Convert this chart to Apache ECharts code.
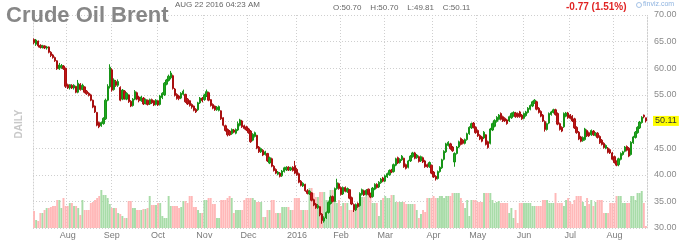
<!DOCTYPE html>
<html><head><meta charset="utf-8">
<script src="https://cdn.jsdelivr.net/npm/echarts/dist/echarts.min.js"></script>
<style>html,body{margin:0;padding:0;background:#fff}#c{width:688px;height:241px}</style>
</head><body><div id="c"></div>
<script>
// ---- data ----
const startDate = '2015-07-10';
const endDate = '2016-08-22';
const monthNames = ['2016','Feb','Mar','Apr','May','Jun','Jul','Aug','Sep','Oct','Nov','Dec'];
const priceTicks = [30, 35, 40, 45, 50, 55, 60, 65, 70];
// [open, close, low, high]
const ohlc = [
[65.4,64.8,64.5,65.6],[64.5,65.3,64.2,65.5],[65.1,64.2,63.9,65.2],[64.3,63.9,63.7,64.5],[63.9,64.2,63.7,64.4],[64.2,63.8,63.6,64.3],[63.8,64.0,63.5,64.2],[64.0,63.0,62.8,64.1],
[63.0,62.4,62.1,63.2],[62.5,62.0,61.8,62.7],[62.0,61.4,61.2,62.2],[61.4,59.9,59.7,61.5],[59.9,60.6,59.7,61.0],[60.1,60.5,59.9,60.8],[60.4,59.9,59.7,60.6],[60.0,56.6,56.3,60.1],
[56.9,56.3,56.1,57.1],[56.3,56.9,56.0,57.0],[56.8,56.3,56.1,57.0],[56.3,56.8,56.0,57.0],[56.6,55.5,55.3,56.7],[55.5,57.2,55.3,57.8],[57.0,56.0,55.8,57.2],[56.0,56.8,55.9,57.1],
[56.5,55.5,55.3,56.6],[55.7,55.2,55.0,55.9],[55.3,54.9,54.7,55.5],[55.0,54.0,53.8,55.2],[54.0,52.7,52.5,54.1],[52.9,51.8,51.6,53.0],[51.7,49.3,49.1,51.8],[49.8,49.0,48.75,50.0],
[49.2,49.8,49.0,50.0],[49.6,50.6,49.4,50.8],[50.5,54.0,50.3,54.3],[54.0,56.6,53.8,57.0],[56.5,60.2,56.2,60.75],[59.7,55.9,55.6,60.0],[56.0,57.8,55.8,58.1],[57.5,56.8,56.5,57.8],
[56.8,57.5,56.5,57.9],[56.4,54.0,53.8,56.6],[54.2,55.9,54.0,56.1],[55.7,54.3,54.1,55.9],[54.2,55.3,54.0,55.5],[55.0,53.7,53.5,55.1],[53.8,52.9,52.7,54.0],[53.0,54.2,52.8,54.4],
[54.2,55.6,54.0,55.9],[55.4,54.2,54.0,55.6],[54.6,53.9,53.6,54.8],[53.9,54.6,53.7,54.8],[54.4,53.3,53.1,54.6],[53.4,54.1,53.2,54.3],[54.0,53.2,53.0,54.1],[53.3,54.1,53.1,54.3],
[54.1,53.5,53.3,54.3],[53.9,53.1,52.9,54.0],[53.2,54.0,53.0,54.2],[53.9,53.1,52.9,54.0],[53.2,54.8,53.0,55.0],[54.5,55.3,54.2,55.5],[55.0,57.2,54.8,57.4],[57.0,57.8,56.8,58.0],
[57.7,58.5,57.5,58.8],[58.2,59.1,57.9,59.5],[58.6,56.2,56.0,58.8],[56.1,54.9,54.7,56.3],[55.1,54.3,54.1,55.3],[54.8,54.3,54.0,55.0],[54.4,55.3,54.2,55.5],[55.1,55.7,54.9,56.0],
[55.1,53.7,53.5,55.2],[54.2,53.3,53.1,54.4],[53.9,53.0,52.8,54.0],[53.2,52.7,52.4,53.4],[52.9,52.1,51.9,53.0],[52.3,51.8,51.6,52.5],[52.2,53.5,52.0,53.7],[53.5,54.4,53.3,54.6],
[54.4,53.9,53.6,54.6],[54.1,55.0,53.9,55.2],[54.9,55.6,54.6,56.0],[55.4,54.0,53.8,55.6],[54.1,53.0,52.8,54.2],[53.2,52.5,52.3,53.4],[52.9,52.2,52.0,53.0],[52.2,52.7,52.0,52.9],
[52.1,52.8,51.9,53.0],[52.0,50.5,50.3,52.1],[50.7,49.3,49.1,50.8],[49.2,48.3,48.1,49.4],[48.5,47.5,47.2,48.7],[48.2,47.5,47.3,48.4],[47.7,48.5,47.5,48.7],[48.4,48.0,47.8,48.6],
[47.8,48.5,47.6,48.7],[48.4,49.6,48.2,50.0],[49.3,50.3,49.1,50.5],[50.1,49.0,48.8,50.3],[49.2,48.7,48.5,49.4],[49.0,48.4,48.2,49.2],[48.6,47.9,47.7,48.8],[48.2,46.2,46.0,48.4],
[46.5,47.6,46.3,47.8],[47.2,47.9,47.0,48.1],[47.4,45.0,44.8,47.5],[45.2,44.3,44.1,45.4],[44.3,44.9,44.1,45.1],[44.6,43.7,43.5,44.8],[43.8,44.3,43.6,44.5],[44.0,42.6,42.4,44.1],
[42.2,43.2,42.0,43.4],[43.0,41.6,41.4,43.2],[41.6,40.8,40.6,41.8],[41.0,40.3,40.1,41.2],[40.1,40.5,39.9,40.7],[40.3,39.7,39.5,40.5],[39.8,40.7,39.6,40.9],[40.6,41.3,40.4,41.5],
[40.9,41.4,40.7,41.6],[41.4,40.9,40.7,41.6],[40.9,41.3,40.7,41.5],[41.4,40.8,40.6,41.6],[41.7,40.3,40.1,42.6],[41.0,40.0,39.8,41.3],[40.2,38.6,38.4,40.4],[38.8,38.0,37.8,39.0],
[37.9,38.4,37.7,38.6],[38.2,37.0,36.8,38.3],[37.0,36.5,36.3,37.3],[36.4,36.9,36.2,37.1],[36.6,35.2,35.0,36.7],[35.3,34.3,34.1,35.5],[34.5,33.8,33.6,34.7],[33.8,34.2,33.6,34.5],
[34.0,32.5,32.2,34.1],[32.6,31.4,30.8,32.8],[31.3,31.9,31.0,32.2],[31.9,32.9,31.7,33.1],[32.9,34.8,32.7,35.0],[34.6,35.8,34.4,36.1],[35.9,35.0,34.8,36.1],[35.0,37.4,34.9,37.6],
[37.4,38.5,37.2,39.25],[38.3,37.4,37.2,38.5],[37.6,36.3,36.1,37.8],[36.4,37.6,36.2,37.8],[37.6,36.9,36.7,37.8],[36.8,37.4,36.6,37.6],[37.2,35.6,35.4,37.3],[35.7,34.5,34.3,35.9],
[34.4,33.4,33.0,34.6],[33.4,34.4,33.2,34.6],[34.6,34.0,33.8,34.8],[34.2,36.5,34.0,36.7],[36.3,37.2,36.1,37.4],[37.0,36.2,36.0,37.2],[36.3,37.1,36.1,37.3],[37.3,36.3,36.1,37.4],
[36.4,35.8,35.6,36.6],[35.9,37.5,35.7,37.7],[37.3,38.2,37.1,38.4],[38.2,37.6,37.4,38.4],[37.7,38.6,37.5,38.8],[38.5,39.2,38.3,39.4],[39.4,38.8,38.6,39.6],[38.8,39.8,38.6,40.0],
[39.6,40.2,39.4,40.4],[40.0,40.8,39.8,41.0],[40.9,40.5,40.3,41.1],[40.6,41.9,40.4,42.1],[41.8,43.0,41.6,43.2],[43.2,42.2,42.0,43.4],[42.3,42.9,42.1,43.1],[42.8,43.5,42.6,43.7],
[43.1,41.5,41.3,43.2],[41.9,41.2,41.0,42.1],[41.4,42.6,41.2,42.8],[42.6,43.5,42.4,43.7],[43.4,44.1,43.2,44.3],[44.1,43.1,42.9,44.3],[43.2,43.7,43.0,43.9],[43.4,42.5,42.3,43.6],
[42.6,43.4,42.4,43.6],[43.2,42.4,42.2,43.4],[42.6,41.5,41.3,42.8],[41.9,41.5,41.3,42.1],[41.5,42.3,41.3,42.5],[41.8,40.3,40.1,41.9],[40.5,39.6,39.4,40.7],[39.7,39.2,38.9,39.9],
[39.3,40.6,39.1,40.8],[40.6,41.4,40.4,41.6],[41.3,42.8,41.1,43.0],[42.9,44.4,42.7,44.6],[44.3,45.8,44.1,46.0],[45.5,46.1,45.3,46.3],[45.8,44.9,44.7,46.0],[45.2,44.5,44.3,45.4],
[42.4,44.0,41.5,44.2],[44.0,45.2,43.8,45.4],[45.2,46.2,45.0,46.4],[46.8,45.7,45.5,47.0],[46.5,45.9,45.7,46.7],[45.9,46.6,45.7,46.8],[46.6,47.7,46.4,47.9],[47.7,48.9,47.5,49.1],
[48.8,49.6,48.6,49.8],[49.7,48.9,48.7,49.9],[48.9,47.9,47.7,49.1],[48.3,47.3,47.1,48.5],[47.4,46.7,46.5,47.6],[47.1,46.3,46.1,47.3],[46.9,48.0,46.7,48.2],[47.5,45.7,45.5,47.6],
[46.2,45.1,44.9,46.4],[45.9,48.6,45.7,48.8],[48.4,49.6,48.2,49.8],[49.1,50.2,48.9,50.4],[50.0,50.8,49.8,51.0],[50.4,51.2,50.2,51.4],[51.5,50.4,50.2,51.7],[50.9,50.1,49.9,51.1],
[50.6,50.1,49.9,50.8],[50.3,49.6,49.4,50.5],[50.1,50.9,49.9,51.1],[50.7,51.5,50.5,51.7],[51.1,51.7,50.9,51.9],[51.6,50.9,50.7,51.8],[51.5,50.9,50.7,51.7],[51.8,50.9,50.7,52.0],
[51.2,50.5,50.3,51.4],[50.6,51.5,50.4,51.7],[51.1,51.8,50.9,52.0],[51.7,52.5,51.5,52.7],[52.3,53.0,52.1,53.2],[52.9,53.7,52.7,53.9],[53.5,54.0,53.3,54.2],[53.7,52.3,52.1,53.9],
[52.5,51.7,51.5,52.7],[51.9,51.0,50.8,52.1],[51.2,50.1,49.9,51.4],[50.0,48.5,48.1,50.2],[48.5,49.6,48.3,49.8],[49.7,51.5,49.5,51.7],[51.3,51.8,51.1,52.0],[51.7,52.2,51.5,52.4],
[52.2,51.3,51.1,52.4],[51.5,49.5,49.3,51.7],[49.6,48.5,48.3,49.8],[48.9,48.2,48.0,49.1],[49.0,51.5,48.8,51.7],[51.0,51.6,50.8,51.8],[51.6,50.7,50.5,51.8],[51.2,50.6,50.4,51.4],
[51.0,50.1,49.9,51.2],[50.5,48.8,48.6,50.7],[48.9,47.9,47.7,49.1],[48.0,46.7,46.5,48.2],[47.1,46.3,46.1,47.3],[46.4,47.0,46.2,47.2],[46.6,48.6,46.4,48.8],[48.3,47.3,47.1,48.5],
[47.9,47.3,47.1,48.1],[47.5,48.3,47.3,48.5],[48.2,47.5,47.3,48.4],[47.4,47.8,47.2,48.0],[47.8,47.0,46.8,48.0],[47.2,46.0,45.8,47.4],[46.5,45.7,45.5,46.7],[45.9,45.1,44.9,46.1],
[45.0,45.5,44.8,45.7],[45.0,44.2,44.0,45.2],[44.7,44.1,43.9,44.9],[44.1,42.9,42.7,44.3],[43.4,42.3,42.1,43.6],[42.5,41.8,41.6,42.7],[41.9,43.0,41.6,43.2],[42.9,44.0,42.7,44.2],
[43.8,44.3,43.6,44.5],[44.4,45.2,44.2,45.4],[45.3,44.6,44.4,45.5],[45.0,43.5,43.3,45.2],[43.8,46.1,43.6,46.3],[46.0,47.1,45.8,47.3],[47.0,48.0,46.8,48.2],[47.9,48.9,47.7,49.1],
[48.8,49.9,48.6,50.1],[49.8,50.8,49.6,51.0],[51.2,50.88,50.6,51.3],[50.70,50.11,49.81,50.70]
];
// volume (relative units)
const volume = [
17,8,7,15,15,18,20,20, 21,22,22,28,28,20,30,22, 22,25,25,22,22,20,13,28, 18,18,18,25,26,28,30,32,
38,33,33,30,24,20,20,20, 15,14,12,10,10,27,27,20, 20,18,18,18,19,19,20,32, 23,23,23,25,25,12,10,10,
32,22,22,22,22,20,21,27, 27,25,32,32,21,21,18,15, 15,28,28,30,30,24,24,10, 10,28,28,28,30,32,30,15,
18,18,18,18,28,30,30,30, 30,28,26,26,26,11,11,18, 18,28,28,15,15,15,21,21, 21,21,18,18,30,30,30,18,
18,18,18,40,40,35,31,31, 36,36,36,28,28,38,38,38, 25,28,22,25,25,25,18,18, 18,23,23,23,31,31,36,36,
36,25,25,25,12,28,30,32, 30,30,33,33,26,26,26,26, 26,24,24,24,24,24,18,10, 14,18,16,30,30,30,32,30,
30,32,32,30,32,32,32,35, 35,35,35,30,25,20,28,12, 28,28,28,26,26,26,35,35, 35,35,28,25,26,27,25,25,
25,25,15,20,10,18,5,25, 25,25,25,25,25,22,22,22, 22,22,28,28,28,25,25,25, 35,25,25,25,22,28,30,26,
24,28,32,32,32,26,22,30, 24,28,22,26,28,28,28,15, 15,15,25,25,25,32,32,32, 25,25,25,25,32,32,28,35,
35,37,25,2
];

// ---- build ----
const dates = [];
for (let d = new Date(startDate + 'T00:00:00Z'); d <= new Date(endDate + 'T00:00:00Z'); d.setUTCDate(d.getUTCDate() + 1)) {
  const wd = d.getUTCDay();
  if (wd === 0 || wd === 6) continue;
  dates.push(d.toISOString().slice(0, 10));
}
const monthStart = new Set();
for (let i = 1; i < dates.length; i++) if (dates[i].slice(5, 7) !== dates[i - 1].slice(5, 7)) monthStart.add(i);
const labelOf = v => monthNames[parseInt(v.slice(5, 7), 10) - 1];
const last = ohlc[ohlc.length - 1];
const lastClose = last[1];

const UP = '#1ea81e', DN = '#c21515';
const volData = volume.map((v, i) => ({ value: v, itemStyle: { color: ohlc[i][1] >= ohlc[i][0] ? '#a8dca8' : '#ffb8b8' } }));
const FONT = 'Liberation Sans, Arial, sans-serif';
const grid = { left: 33, right: 41, top: 15, bottom: 13 };
const gridH = 241 - grid.top - grid.bottom;
const dotted = { color: '#cfcfcf', type: [1, 2], width: 1 };

const chart = echarts.init(document.getElementById('c'), null, { renderer: 'canvas' });
chart.setOption({
  animation: false,
  backgroundColor: '#fff',
  title: { text: 'Crude Oil Brent', left: 1, top: 0, textStyle: { fontFamily: FONT, fontSize: 22, fontWeight: 'bold', color: '#878787' } },
  grid,
  xAxis: {
    type: 'category', data: dates, boundaryGap: true,
    axisLine: { show: false }, axisTick: { show: false },
    axisLabel: { interval: (i) => monthStart.has(i), formatter: (v) => labelOf(v), fontFamily: FONT, fontSize: 9, color: '#7a7a7a', margin: 3 },
    splitLine: { show: true, interval: (i) => monthStart.has(i), lineStyle: dotted }
  },
  yAxis: [
    { type: 'value', position: 'right', min: priceTicks[0], max: priceTicks[priceTicks.length - 1], interval: 5,
      axisLine: { show: true, lineStyle: dotted }, axisTick: { show: false },
      axisLabel: { formatter: v => Math.abs(v - lastClose) < 2 ? '' : v.toFixed(2), fontFamily: FONT, fontSize: 9, color: '#8a8a8a', margin: 7 },
      splitLine: { show: true, lineStyle: dotted } },
    { type: 'value', position: 'left', min: 0, max: gridH, axisLine: { show: true, lineStyle: dotted }, axisTick: { show: false }, axisLabel: { show: false }, splitLine: { show: false } }
  ],
  series: [
    { type: 'bar', yAxisIndex: 1, data: volData, barWidth: '92%', silent: true, z: 1 },
    { type: 'candlestick', yAxisIndex: 0, data: ohlc, barWidth: '85%', z: 3,
      itemStyle: { color: UP, color0: DN, borderColor: '#179417', borderColor0: '#a81010', borderWidth: 1 },
      markLine: { silent: true, symbol: ['none', 'none'], lineStyle: { color: 'rgba(0,0,0,0)', width: 0 },
        data: [{ yAxis: lastClose }],
        label: { show: true, position: 'end', distance: 6, formatter: () => lastClose.toFixed(2), backgroundColor: '#ffff00', color: '#333', fontFamily: FONT, fontSize: 9, padding: [1, 2, 0, 2] } } }
  ],
  graphic: [
    { type: 'text', left: 175, top: 1, style: { text: 'AUG 22 2016 04:23 AM', font: '8px ' + FONT, fill: '#666' } },
    { type: 'text', left: 333, top: 4, style: { text: 'O:' + last[0].toFixed(2) + '    H:' + last[3].toFixed(2) + '    L:' + last[2].toFixed(2) + '    C:' + last[1].toFixed(2), font: '8px ' + FONT, fill: '#666' } },
    { type: 'text', left: 566, top: 2, style: { text: '-0.77 (1.51%)', font: 'bold 10px ' + FONT, fill: '#e02424' } },
    { type: 'circle', shape: { cx: 639, cy: 5, r: 2.5 }, style: { fill: 'none', stroke: '#8fb4e0', lineWidth: 0.8 } },
    { type: 'text', left: 643, top: 1, style: { text: 'finviz.com', font: '7px ' + FONT, fill: '#8fb4e0' } },
    { type: 'text', x: 19, y: 124, rotation: Math.PI / 2, style: { text: 'DAILY', font: 'bold 10px ' + FONT, fill: '#c8c8c8', align: 'center', verticalAlign: 'middle' } }
  ]
});
</script>
</body></html>
